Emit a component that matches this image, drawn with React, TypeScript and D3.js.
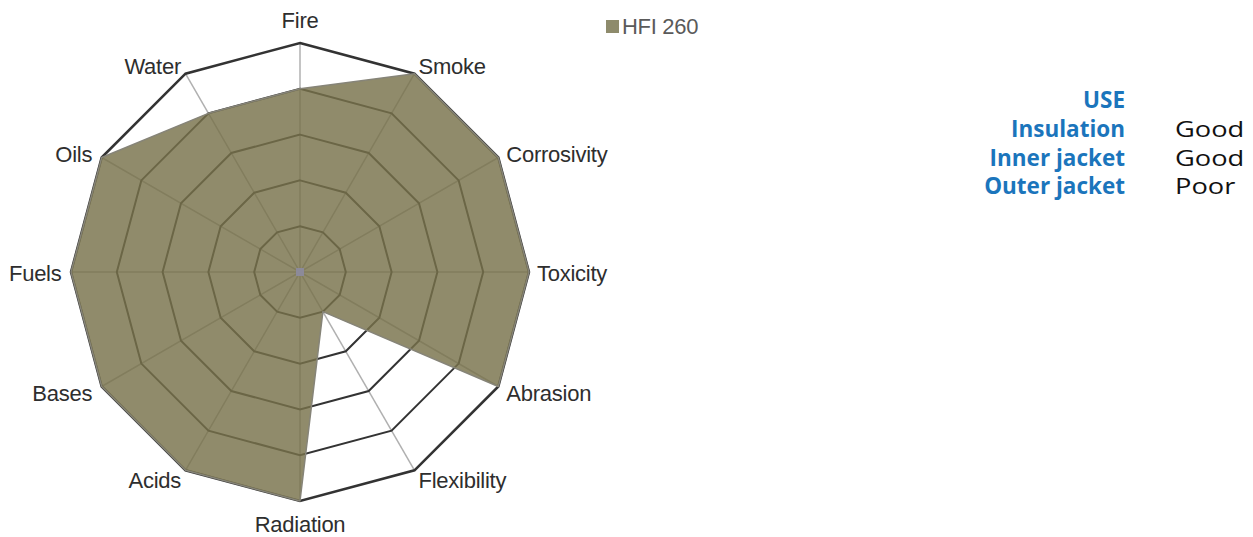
import React from "react";
import * as d3 from "d3";

const axes = ["Fire", "Smoke", "Corrosivity", "Toxicity", "Abrasion", "Flexibility", "Radiation", "Acids", "Bases", "Fuels", "Oils", "Water"];
const hfi260 = [4, 5, 5, 5, 5, 1, 5, 5, 5, 5, 5, 4];
const levels = [1, 2, 3, 4, 5];
const seriesName = "HFI 260";
const useTitle = "USE";
const useLabels = ["Insulation", "Inner jacket", "Outer jacket"];
const useRatings = ["Good", "Good", "Poor"];

const W = 1253;
const H = 537;
const cx = 300;
const cy = 272;
const R = 229;

export default function App() {
  const r = d3.scaleLinear().domain([0, 5]).range([0, R]);
  const angle = d3.scalePoint<string>().domain(axes).range([0, 2 * Math.PI * (axes.length - 1) / axes.length]);
  const radial = d3.lineRadial<number>()
    .angle((_, i) => angle(axes[i]) as number)
    .radius((d) => r(d))
    .curve(d3.curveLinearClosed);
  const ringPath = (lv: number) => radial(axes.map(() => lv)) as string;
  const pt = (i: number, v: number) => {
    const a = angle(axes[i]) as number;
    return [Math.sin(a) * r(v), -Math.cos(a) * r(v)];
  };
  const labelPos = (i: number) => {
    const a = angle(axes[i]) as number;
    const s = Math.sin(a);
    const c = Math.cos(a);
    const [x, y] = pt(i, 5);
    let anchor = "middle";
    let dx = 0;
    let dy = -10 * c + 1.5 + 7.5;
    if (s > 0.1) { anchor = "start"; dx = s > 0.8 ? 8 : 4; }
    else if (s < -0.1) { anchor = "end"; dx = s < -0.8 ? -9.5 : -4.5; }
    if (Math.abs(s) < 0.1) dy = c > 0 ? -15.5 : 31;
    return { x: x + dx, y: y + dy, anchor };
  };
  const labelFont = "'Liberation Sans', Arial, sans-serif";
  const rowY = (i: number) => 137 + i * 28.7;
  return (
    <svg width={W} height={H} style={{ position: "absolute", left: 0, top: 0, background: "#fff" }}>
      <g transform={`translate(${cx},${cy})`}>
        {axes.map((a, i) => {
          const [x, y] = pt(i, 5);
          return <line key={a} x1={0} y1={0} x2={x} y2={y} stroke="#b0b0b0" strokeWidth={1.5} />;
        })}
        {levels.map((lv) => (
          <path key={lv} d={ringPath(lv)} fill="none" stroke="#333" strokeWidth={lv === 5 ? 2.5 : 2} />
        ))}
        <path d={radial(hfi260) as string} fill="rgb(120,114,74)" fillOpacity={0.82} stroke="#868478" strokeWidth={1.5} strokeLinejoin="round" />
        <rect x={-4} y={-4} width={8} height={8} fill="#8c8a99" />
        {axes.map((a, i) => {
          const p = labelPos(i);
          return (
            <text key={a} x={p.x} y={p.y} textAnchor={p.anchor} fontFamily={labelFont} fontSize={22} fill="#2e2e2e" letterSpacing={-0.25}>
              {a}
            </text>
          );
        })}
      </g>
      <rect x={606} y={20} width={13} height={13} fill="#8e8b6c" />
      <text x={622} y={34} fontFamily={labelFont} fontSize={22} fill="#5a5a5a" letterSpacing={-0.3}>{seriesName}</text>
      <g fontFamily="'Open Sans', sans-serif" fontSize={22.5} fontWeight={700} fill="#1b75bc" textAnchor="end">
        <text x={1125} y={108}>{useTitle}</text>
        {useLabels.map((l, i) => (
          <text key={l} x={1125} y={rowY(i)}>{l}</text>
        ))}
      </g>
      <g fontFamily="'Open Sans', sans-serif" fontSize={22} fill="#111">
        {useRatings.map((l, i) => (
          <text key={i} transform={`translate(1175,${rowY(i)}) scale(1.24,1)`}>{l}</text>
        ))}
      </g>
    </svg>
  );
}
